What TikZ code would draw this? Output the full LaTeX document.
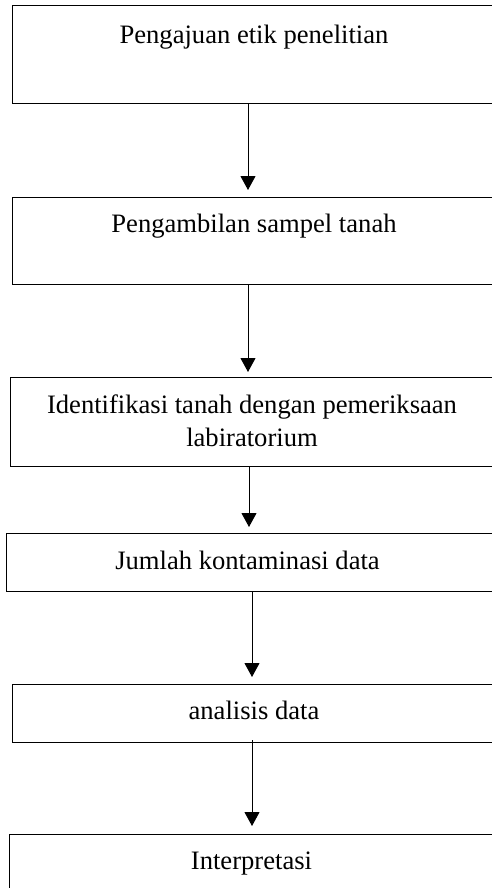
\documentclass[tikz,border=0pt]{standalone}
\usepackage{fontspec}
\setmainfont{Liberation Serif}
\usetikzlibrary{arrows.meta,calc}
\begin{document}
\begin{tikzpicture}[x=1pt,y=1pt,
  box/.style={draw=black, line width=1pt, inner sep=0pt, outer sep=0pt, anchor=north west},
  txt/.style={font=\fontsize{26.6}{33}\selectfont, inner sep=0pt, anchor=base, align=center},
  arr/.style={line width=1pt, -{Triangle[length=14pt,width=15pt]}}]
\useasboundingbox (0,0) rectangle (491,-888);
\node[box, minimum width=484pt, minimum height=98pt] (b1) at (12,-6) {};
\node[box, minimum width=484pt, minimum height=87pt] (b2) at (12,-197) {};
\node[box, minimum width=484pt, minimum height=89pt] (b3) at (10,-377) {};
\node[box, minimum width=486pt, minimum height=58pt] (b4) at (6,-533) {};
\node[box, minimum width=484pt, minimum height=58pt] (b5) at (12,-684) {};
\node[box, minimum width=485pt, minimum height=58pt] (b6) at (9,-834) {};
\node[txt] (t1) at (254,-44) {Pengajuan etik penelitian};
\node[txt] (t2) at (254,-232) {Pengambilan sampel tanah};
\node[txt] (t3) at (252,-446) {Identifikasi tanah dengan pemeriksaan\\labiratorium};
\node[txt] (t4) at (247.5,-569) {Jumlah kontaminasi data};
\node[txt] (t5) at (254,-719) {analisis data};
\node[txt] (t6) at (251.5,-869) {Interpretasi};
\coordinate (xa) at (248,0);
\coordinate (xc) at (249,0);
\coordinate (xb) at (252,0);
\draw[arr, shorten >=7pt] (xa |- b1.south) -- (xa |- b2.north);
\draw[arr, shorten >=5pt] (xa |- b2.south) -- (xa |- b3.north);
\draw[arr, shorten >=6pt] (xc |- b3.south) -- (xc |- b4.north);
\draw[arr, shorten >=7pt] (xb |- b4.south) -- (xb |- b5.north);
\draw[arr, shorten >=8pt, shorten <=-2pt] (xb |- b5.south) -- (xb |- b6.north);
\end{tikzpicture}
\end{document}
